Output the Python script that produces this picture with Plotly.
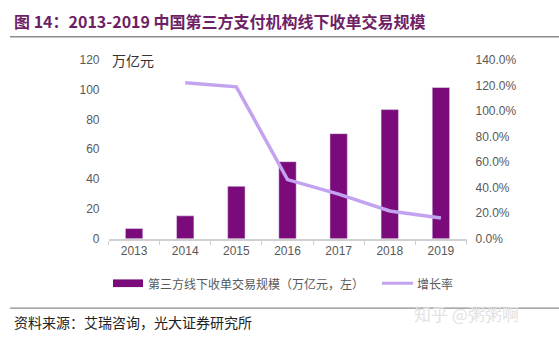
import plotly.graph_objects as go

years = ["2013", "2014", "2015", "2016", "2017", "2018", "2019"]
volume = [6.9, 15.4, 35.2, 51.7, 70.5, 86.6, 101.4]
growth_years = ["2014", "2015", "2016", "2017", "2018", "2019"]
growth = [1.22, 1.188, 0.463, 0.35, 0.218, 0.163]

W, H = 559, 343
def px(x): return x / W
def py(y): return 1 - y / H

BAR = "#7B0A7B"
LINE = "#C3A3F0"
TICK = "#595959"
FONT = "Liberation Sans, Noto Sans CJK SC, sans-serif"
CJK = "Noto Sans CJK SC, sans-serif"

fig = go.Figure()
fig.add_trace(go.Bar(x=years, y=volume, marker_color=BAR, width=0.34,
                     name="第三方线下收单交易规模（万亿元，左）", showlegend=False))
fig.add_trace(go.Scatter(x=growth_years, y=growth, mode="lines", yaxis="y2",
                         line=dict(color=LINE, width=3.5), name="增长率", showlegend=False))

fig.update_layout(
    width=W, height=H, margin=dict(l=0, r=0, t=0, b=0),
    paper_bgcolor="white", plot_bgcolor="white",
    font=dict(family=FONT, size=12, color=TICK),
    xaxis=dict(domain=[px(108.5), px(466.5)], type="category",
               showline=True, linecolor="#D0D0D0", linewidth=1.5,
               ticks="outside", tickson="boundaries", ticklen=4, tickcolor="#D0D0D0",
               showgrid=False, tickfont=dict(size=12, color=TICK)),
    yaxis=dict(domain=[py(241.7), py(55)], range=[0, 120], dtick=20,
               showgrid=False, zeroline=False, showline=False,
               ticklabelstandoff=8, tickfont=dict(size=12, color=TICK)),
    yaxis2=dict(overlaying="y", side="right", range=[0, 1.4], dtick=0.2,
                tickformat=".1%", showgrid=False, zeroline=False, showline=False,
                ticklabelstandoff=8, tickfont=dict(size=12, color=TICK)),
    bargap=0.66,
)

shapes = [
    dict(type="line", xref="paper", yref="paper", x0=px(10), x1=1, y0=py(31), y1=py(31),
         line=dict(color="#8C8C8C", width=1.5)),
    dict(type="line", xref="paper", yref="paper", x0=px(10), x1=1, y0=py(314), y1=py(314),
         line=dict(color="#8C8C8C", width=1.2)),
    dict(type="rect", xref="paper", yref="paper", x0=px(113), x1=px(143), y0=py(292), y1=py(284),
         fillcolor=BAR, line=dict(width=0)),
    dict(type="line", xref="paper", yref="paper", x0=px(382), x1=px(413), y0=py(288), y1=py(288),
         line=dict(color=LINE, width=3)),
]
fig.update_layout(shapes=shapes)

ann = [
    dict(text="<b>图 14：2013-2019 中国第三方支付机构线下收单交易规模</b>", x=px(12), y=py(15),
         xanchor="left", yanchor="middle", font=dict(size=16, color="#6E1F66", family=CJK)),
    dict(text="万亿元", x=px(110), y=py(55), xanchor="left", yanchor="middle",
         font=dict(size=14, color="#333333", family=CJK)),
    dict(text="第三方线下收单交易规模（万亿元，左）", x=px(146), y=py(288), xanchor="left", yanchor="middle",
         font=dict(size=12, color=TICK, family=CJK)),
    dict(text="增长率", x=px(415), y=py(288), xanchor="left", yanchor="middle",
         font=dict(size=12, color=TICK, family=CJK)),
    dict(text="资料来源：艾瑞咨询，光大证券研究所", x=px(12), y=py(328), xanchor="left", yanchor="middle",
         font=dict(size=14, color="#222222", family=CJK)),
    dict(text="知乎 @粥粥啊", x=px(412), y=py(320), xanchor="left", yanchor="middle",
         font=dict(size=17, color="#E2E2E2", family=CJK)),
]
for a in ann:
    a.update(xref="paper", yref="paper", showarrow=False)
fig.update_layout(annotations=ann)

fig.write_html("out.html")
